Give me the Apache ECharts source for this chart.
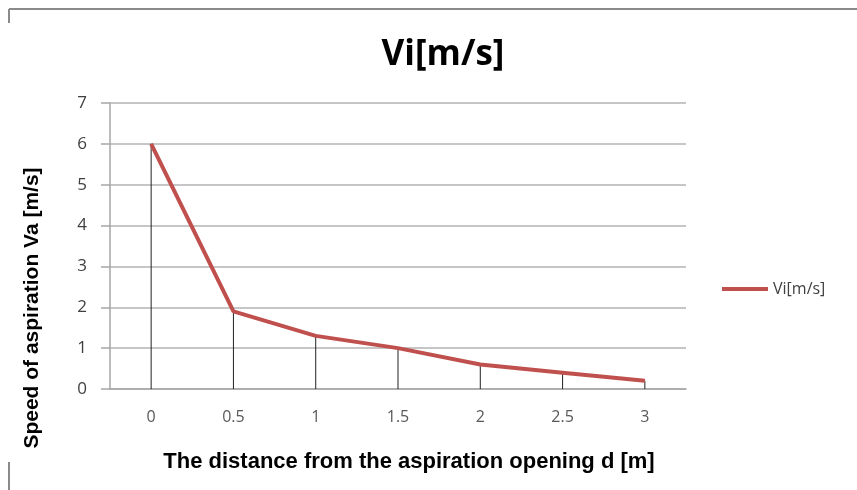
<!DOCTYPE html>
<html>
<head>
<meta charset="utf-8">
<script src="https://cdn.jsdelivr.net/npm/echarts@6/dist/echarts.min.js"></script>
<style>
  html, body { margin: 0; padding: 0; background: #fff; }
  #chart { width: 857px; height: 490px; }
</style>
</head>
<body>
<div id="chart"></div>
<script>
  // distance d [m]
  var categories = ['0', '0.5', '1', '1.5', '2', '2.5', '3'];
  // Vi [m/s]
  var viValues = [6.0, 1.9, 1.3, 1.0, 0.6, 0.4, 0.2];
  var seriesName = 'Vi[m/s]';

  var chart = echarts.init(document.getElementById('chart'));
  var options = {
    backgroundColor: '#fff',
    animation: false,
    title: {
      text: 'Vi[m/s]',
      left: 438,
      top: 33,
      textAlign: 'center',
      textStyle: {
        fontFamily: 'Open Sans',
        fontWeight: 'bold',
        fontSize: 35,
        color: '#000'
      }
    },
    legend: {
      data: [{ name: seriesName, icon: 'rect' }],
      left: 717,
      top: 276,
      itemWidth: 46,
      itemHeight: 4,
      itemGap: 0,
      textStyle: {
        fontFamily: 'Open Sans',
        fontSize: 16,
        color: '#404040'
      }
    },
    grid: {
      left: 110,
      right: 171,
      top: 103,
      bottom: 101,
      containLabel: false
    },
    xAxis: {
      type: 'category',
      boundaryGap: true,
      data: categories,
      axisLine: { show: true, lineStyle: { color: '#a6a6a6', width: 1.5 } },
      axisTick: { show: false },
      axisLabel: {
        margin: 20,
        fontFamily: 'Open Sans',
        fontSize: 16,
        color: '#595959'
      },
      splitLine: { show: false }
    },
    yAxis: {
      type: 'value',
      min: 0,
      max: 7,
      interval: 1,
      axisLine: { show: true, lineStyle: { color: '#a6a6a6', width: 1.5 } },
      axisTick: { show: true, length: 9, lineStyle: { color: '#a6a6a6', width: 1.5 } },
      axisLabel: {
        margin: 23,
        fontFamily: 'Open Sans',
        fontSize: 17,
        color: '#404040'
      },
      splitLine: { show: true, lineStyle: { color: '#b3b3b3', width: 1.5 } }
    },
    graphic: [
      // frame pieces
      { type: 'line', shape: { x1: 9, y1: 9, x2: 857, y2: 9 }, style: { stroke: '#8a8a8a', lineWidth: 2 } },
      { type: 'line', shape: { x1: 9, y1: 9, x2: 9, y2: 23 }, style: { stroke: '#8a8a8a', lineWidth: 2 } },
      { type: 'line', shape: { x1: 9, y1: 462, x2: 9, y2: 490 }, style: { stroke: '#8a8a8a', lineWidth: 2 } },
      // axis titles
      {
        type: 'text',
        x: 409,
        y: 462,
        style: {
          text: 'The distance from the aspiration opening d [m]',
          font: 'bold 22px "Liberation Sans", Arial',
          fill: '#000',
          textAlign: 'center',
          textVerticalAlign: 'middle'
        }
      },
      {
        type: 'text',
        x: 32,
        y: 308,
        rotation: Math.PI / 2,
        style: {
          text: 'Speed of aspiration Va [m/s]',
          font: 'bold 21px "Liberation Sans", Arial',
          fill: '#000',
          textAlign: 'center',
          textVerticalAlign: 'middle'
        }
      }
    ],
    series: [
      {
        // drop lines from each point down to the axis
        name: 'drop',
        type: 'bar',
        data: viValues,
        barWidth: 1,
        silent: true,
        z: 1,
        itemStyle: { color: '#222' }
      },
      {
        name: seriesName,
        type: 'line',
        data: viValues,
        symbol: 'none',
        z: 3,
        lineStyle: { color: '#c0504d', width: 4 },
        itemStyle: { color: '#c0504d' }
      }
    ]
  };
  chart.setOption(options);
</script>
</body>
</html>
